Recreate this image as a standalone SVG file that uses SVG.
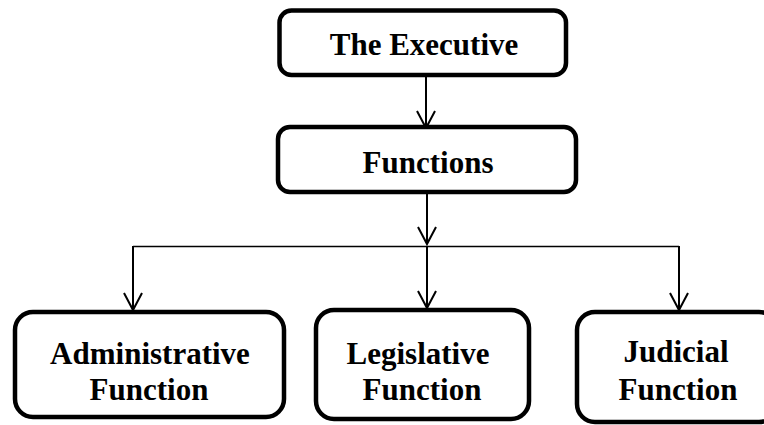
<svg xmlns="http://www.w3.org/2000/svg" width="764" height="425" viewBox="0 0 764 425">
<defs>
<style>
.box{fill:#fff;stroke:#000;stroke-width:4.5}
.t{font-family:"Liberation Serif","Times New Roman",serif;font-weight:bold;font-size:31px;fill:#000;text-anchor:middle}
.c{fill:none;stroke:#000;stroke-width:2}
.h{fill:none;stroke:#000;stroke-width:1.5}
</style>
<marker id="arr" markerUnits="userSpaceOnUse" markerWidth="40" markerHeight="40" refX="0" refY="0" orient="auto" overflow="visible">
<path d="M-17,-9 L0,0 L-17,9" fill="none" stroke="#000" stroke-width="2"/>
</marker>
</defs>
<rect width="764" height="425" fill="#fff"/>
<g id="connectors">
<line class="c" x1="426" y1="75" x2="426" y2="128" marker-end="url(#arr)"/>
<line class="c" x1="427" y1="192" x2="427" y2="244" marker-end="url(#arr)"/>
<line class="h" x1="133" y1="246.5" x2="679" y2="246.5"/>
<line class="c" x1="133" y1="246" x2="133" y2="310" marker-end="url(#arr)"/>
<line class="c" x1="427" y1="246" x2="427" y2="308" marker-end="url(#arr)"/>
<line class="c" x1="679" y1="246" x2="679" y2="310" marker-end="url(#arr)"/>
</g>
<g id="executive">
<rect class="box" x="279.5" y="10.5" width="286.5" height="64.5" rx="12"/>
<text class="t" x="424" y="55">The Executive</text>
</g>
<g id="functions">
<rect class="box" x="278" y="127" width="298" height="65" rx="12"/>
<text class="t" x="428" y="173">Functions</text>
</g>
<g id="administrative">
<rect class="box" x="15" y="312" width="269" height="105" rx="18"/>
<text class="t" x="150" y="364">Administrative</text>
<text class="t" x="149" y="400">Function</text>
</g>
<g id="legislative">
<rect class="box" x="316" y="310" width="213" height="109" rx="18"/>
<text class="t" x="418" y="364">Legislative</text>
<text class="t" x="422" y="400">Function</text>
</g>
<g id="judicial">
<rect class="box" x="577" y="312" width="200" height="110" rx="18"/>
<text class="t" x="676" y="362">Judicial</text>
<text class="t" x="678" y="400">Function</text>
</g>
</svg>
